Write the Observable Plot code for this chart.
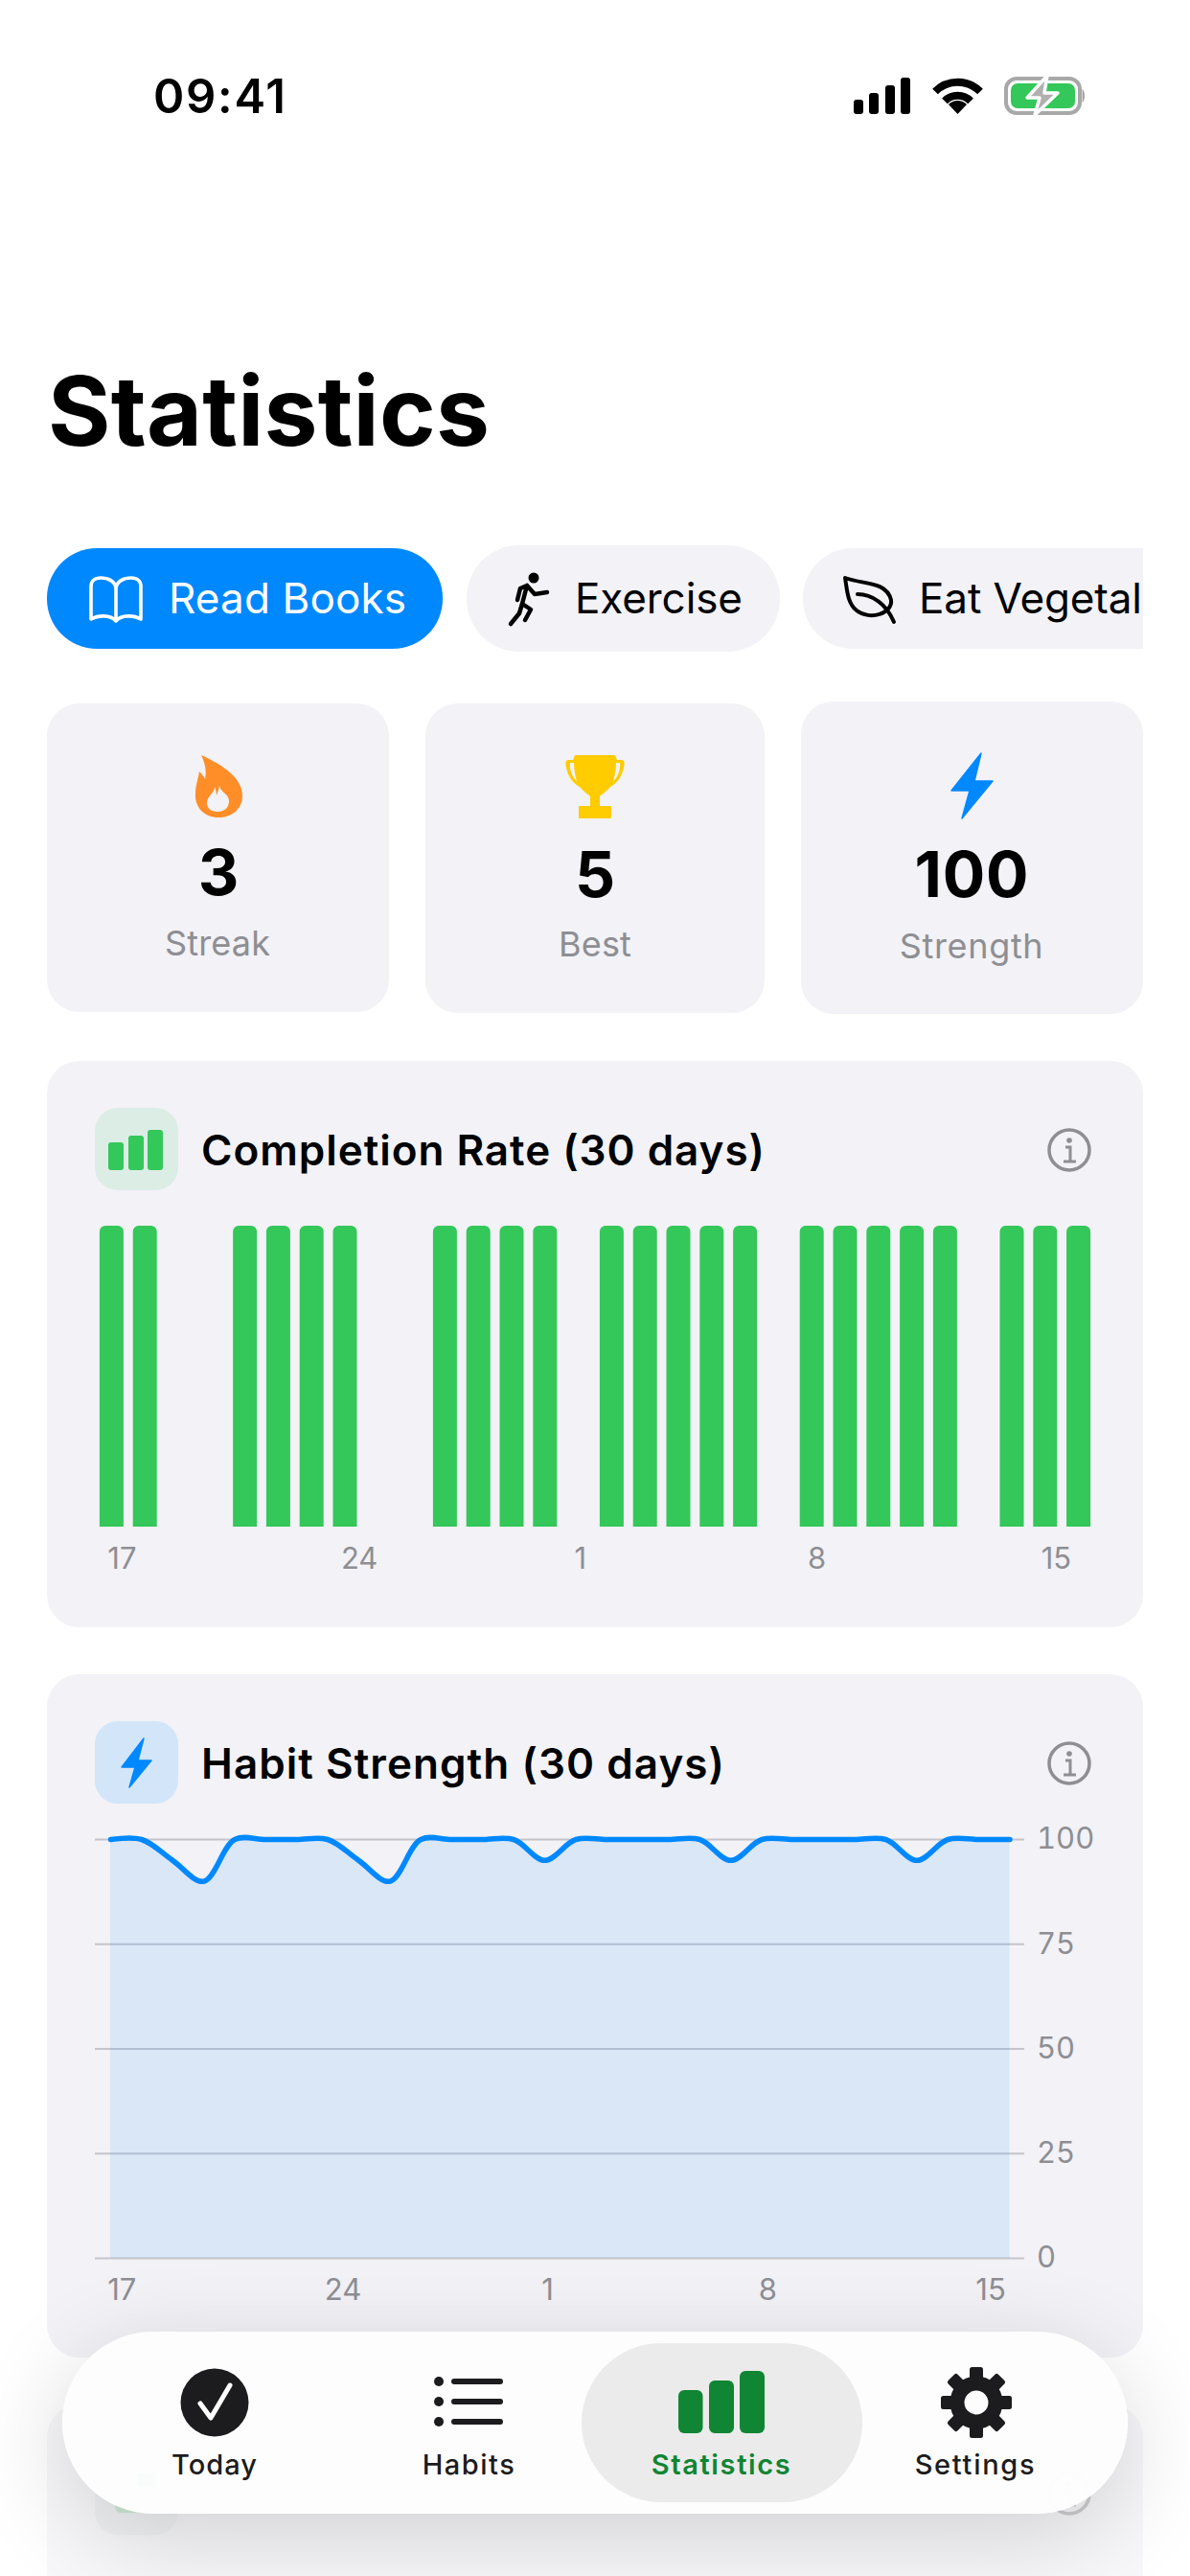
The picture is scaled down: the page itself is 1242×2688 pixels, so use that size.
<!DOCTYPE html>
<html>
<head>
<meta charset="utf-8">
<script src="https://cdn.jsdelivr.net/npm/d3@7"></script>
<script src="https://cdn.jsdelivr.net/npm/@observablehq/plot@0.6"></script>
<style>
html,body{margin:0;padding:0;background:#fff;}
#page{position:relative;width:1242px;height:2688px;overflow:hidden;background:#fff;font-family:Inter,"Noto Sans",sans-serif;}
.box{position:absolute;background:#f2f2f7;border-radius:34px;}
.t{position:absolute;white-space:nowrap;line-height:80px;height:80px;}
.abs{position:absolute;left:0;top:0;}
</style>
</head>
<body>
<div id="page"></div>
<script>
// ---- chart data ----
const days = [17,18,19,20,21,22,23,24,25,26,27,28,29,30,1,2,3,4,5,6,7,8,9,10,11,12,13,14,15,16];
const completed = [1,1,0,0,1,1,1,1,0,0,1,1,1,1,0,1,1,1,1,1,0,1,1,1,1,1,0,1,1,1];
const strength = [100,100,95,90,100,100,100,100,95,90,100,100,100,100,95,100,100,100,100,100,95,100,100,100,100,100,95,100,100,100];
const dayTicks = [17,24,1,8,15];
const strengthTicks = [0,25,50,75,100];

const GREEN = "#34c759", BLUE = "#0088ff", GREY = "#8e8e93";
const page = document.getElementById("page");

function box(x,y,w,h,r,bg,z){
  const d=document.createElement("div");d.className="box";
  d.style.cssText=`left:${x}px;top:${y}px;width:${w}px;height:${h}px;border-radius:${r}px;background:${bg||"#f2f2f7"};z-index:${z||1}`;
  page.appendChild(d);return d;
}
// text: cy = centre of capitals, x = left or cx = centre, w = target width (fitted by letter spacing)
function text(s,o,parent){
  const d=document.createElement("div");d.className="t";d.textContent=s;
  d.style.fontSize=o.size+"px";d.style.fontWeight=o.weight||400;d.style.color=o.color||"#000";
  d.style.top=(o.cy-40)+"px";d.style.zIndex=o.z||3;
  (parent||page).appendChild(d);
  if(o.w){const m=d.getBoundingClientRect().width;d.style.letterSpacing=((o.w-m)/(s.length-1))+"px";}
  if(o.cx!==undefined){d.style.left=(o.cx-d.getBoundingClientRect().width/2)+"px";}else{d.style.left=o.x+"px";}
  return d;
}
function svgLayer(inner,z){
  const d=document.createElement("div");d.className="abs";d.style.zIndex=z;
  d.innerHTML=`<svg width="1242" height="2688" viewBox="0 0 1242 2688" style="display:block">${inner}</svg>`;
  page.appendChild(d);
}
const info=(cx,cy,op)=>`<g opacity="${op||1}"><g fill="none" stroke="${GREY}" stroke-width="3.5"><circle cx="${cx}" cy="${cy}" r="21"/><path d="M${cx-4} ${cy-3}H${cx+1}V${cy+12} M${cx-6} ${cy+12}H${cx+7}" stroke-width="3"/></g><circle cx="${cx}" cy="${cy-10}" r="2.8" fill="${GREY}"/></g>`;

// ---- charts ----
const rows = days.map((d,i)=>({day:d,done:completed[i],strength:strength[i]}));
const axisFont = {fontFamily:"Inter,sans-serif",background:"transparent",overflow:"visible",color:GREY};

const completionPlot = Plot.plot({
  width:1144,height:400,marginLeft:50,marginRight:50,marginTop:19,marginBottom:67,
  style:axisFont,
  x:{type:"band",domain:days,paddingInner:0.282,paddingOuter:0.141,round:false,label:null},
  y:{domain:[0,1],axis:null},
  marks:[
    Plot.barY(rows.filter(d=>d.done),{x:"day",y:"done",fill:GREEN,ry1:6}),
    Plot.axisX(dayTicks,{tickSize:0,tickPadding:21,textAnchor:"start",dx:-4.6,fontSize:31,fill:GREY,label:null,tickFormat:d=>String(d)})
  ]
});
const strengthPlot = Plot.plot({
  width:1144,height:530,marginLeft:66,marginRight:139.5,marginTop:29,marginBottom:64,
  style:axisFont,
  x:{type:"point",domain:days,padding:0,round:false,label:null},
  y:{domain:[0,100],label:null},
  marks:[
    Plot.ruleY(strengthTicks,{stroke:"#c4c4ca",strokeWidth:2,insetLeft:-16,insetRight:-15.5}),
    Plot.areaY(rows,{x:"day",y:"strength",fill:BLUE,fillOpacity:0.1,curve:"catmull-rom"}),
    Plot.line(rows,{x:"day",y:"strength",stroke:BLUE,strokeWidth:5.5,curve:"catmull-rom"}),
    Plot.axisX(dayTicks,{tickSize:0,tickPadding:21,textAnchor:"start",dx:-3.3,fontSize:31,fill:GREY,label:null,tickFormat:d=>String(d)}),
    Plot.axisY(strengthTicks,{anchor:"right",tickSize:0,tickPadding:28,fontSize:31,fill:GREY,label:null,tickFormat:d=>String(d)})
  ]
});
function place(plot,x,y){const d=document.createElement("div");d.style.cssText=`position:absolute;left:${x}px;top:${y}px;z-index:2`;d.appendChild(plot);page.appendChild(d);}
place(completionPlot,49,1260);
place(strengthPlot,49,1890);

// ---- cards ----
box(49,734,357,322,34);box(443.5,734,354.5,323,34);box(836,732,357,326,34);
box(49,1107,1144,591,34);box(49,1747,1144,713,34);box(49,2509,1144,400,34,"rgba(242,242,247,0.5)");
// pills
box(49,572,413,105,52,BLUE);box(487,569,326.5,110.5,55);
const clip=box(838,572,355,105,0);clip.style.borderRadius="52px 0 0 52px";
// tiles
box(99,1156,86.5,86,24,"#dcede6",2);box(99,1796,86.5,86,24,"#d3e5f8",2);
box(99,2559,86.5,86,24,"rgba(100,130,110,0.05)",2);box(120,2595,50,27,6,"#d0ead6",2);

// ---- texts ----
text("09:41",{x:160,cy:101,size:49,weight:600,w:138});
text("Statistics",{x:50,cy:429,size:100,weight:700,w:461});
text("Read Books",{x:176,cy:624,size:44,color:"#fff",w:248});
text("Exercise",{x:600,cy:624,size:44,w:175});
text("Eat Vegetal",{x:121,cy:52,size:44,w:233},clip);
text("3",{cx:228,cy:910,size:66,weight:700});
text("5",{cx:621,cy:912,size:66,weight:700});
text("100",{cx:1014.5,cy:912,size:66,weight:700,w:119});
text("Streak",{cx:227,cy:984,size:36,color:GREY,w:110});
text("Best",{cx:621,cy:985,size:36,color:GREY,w:76});
text("Strength",{cx:1014,cy:987,size:36,color:GREY,w:150});
text("Completion Rate (30 days)",{x:210,cy:1200,size:44,weight:600,w:588});
text("Habit Strength (30 days)",{x:210,cy:1840,size:44,weight:600,w:546});

// ---- icons under the tab bar ----
svgLayer(`
<g fill="#000">
 <rect x="891" y="104" width="10" height="15" rx="3"/><rect x="907" y="97" width="10" height="22" rx="3"/>
 <rect x="924" y="89" width="10" height="30" rx="3"/><rect x="940" y="81" width="10" height="38" rx="3"/>
 <path d="M999.5 119 L990 109 A13.5 13.5 0 0 1 1009 109 Z"/>
</g>
<g fill="none" stroke="#000" stroke-width="8">
 <path d="M976 95.5 A33 33 0 0 1 1023 95.5"/><path d="M986 105.5 A19 19 0 0 1 1013 105.5"/>
</g>
<rect x="1050" y="82" width="77" height="36" rx="11" fill="#fff" stroke="#a8a8a8" stroke-width="4"/>
<rect x="1055" y="87" width="67" height="26" rx="7" fill="${GREEN}"/>
<path d="M1129.500 93 C1133 95 1133 105 1129.500 107 Z" fill="#a8a8a8"/>
<path d="M1093 79 L1072 102 H1085 L1080 120 L1104 97 H1090 Z" fill="#b0b0b0" stroke="#fff" stroke-width="3.5" stroke-linejoin="round"/>

<g fill="none" stroke="#fff" stroke-width="3.6" stroke-linejoin="round" stroke-linecap="round">
 <path d="M121 615 C121 606 112 603 105 603 C99 603 95 606 95 612 V646 C102 642 115 641 121 648 C127 641 140 642 147 646 V612 C147 606 143 603 137 603 C130 603 121 606 121 615 V645"/>
</g>
<g fill="#000" stroke="#000" stroke-linecap="round" stroke-linejoin="round">
 <circle cx="557" cy="603" r="5.5" stroke="none"/>
 <path d="M550 611 L543 614 L540 626 M550 611 L558 620 L571 618 M550 611 L545 630 L554 636 L548 647 M545 630 L542 640 L533 651 " fill="none" stroke-width="4.5"/>
</g>
<g fill="none" stroke="#000" stroke-width="4" stroke-linecap="round" stroke-linejoin="round">
 <path d="M882 603 C900 610 925 606 930 626 C932 640 908 648 894 637 C884 629 884 614 882 603 Z"/>
 <path d="M895 620 C910 620 925 630 933 649"/>
</g>

<path d="M210 788 C228 796 253 810 253 830 C253 845 241 853 228 853 C214 853 203 843 204 828 C204 820 207 812 208 805 C211 808 213 811 214 813 C216 805 214 796 210 788 Z" fill="#ff8d28"/>
<path d="M224 823 C224 830 216 832 216 840 C216 846 221 849 227 849 C234 849 239 845 239 838 C239 830 231 830 229 822 C228 826 227 830 226 832 C226 829 225 826 224 823 Z" fill="#f2f2f7" transform="translate(0,-2)"/>
<path d="M600 788 H642 L644 793 H649 C652 793 652 797 651 801 C649 811 643 818 637 821 C633 826 628 829 626 831 V841 H638 V854 H604 V841 H616 V831 C614 829 609 826 605 821 C599 818 593 811 591 801 C590 797 590 793 593 793 H598 Z M595 796 C594 804 598 812 602 815 C600 808 599 802 599 796 Z M647 796 H643 C643 802 642 808 640 815 C644 812 648 804 647 796 Z" fill="#ffcc00" fill-rule="evenodd"/>
<polygon points="1024,786 993,825 1012,825 1004,854 1036,815 1017,815" fill="${BLUE}" stroke="${BLUE}" stroke-width="1.5" stroke-linejoin="round"/>

<g fill="${GREEN}"><rect x="113" y="1192" width="16" height="29" rx="3"/><rect x="134" y="1185" width="16" height="36" rx="3"/><rect x="154" y="1179" width="16" height="42" rx="3"/></g>
<polygon points="150,1814 127,1844 141,1844 135,1865 158,1837 144,1837" fill="${BLUE}" stroke="${BLUE}" stroke-width="1.5" stroke-linejoin="round"/>
<rect x="143" y="2580" width="20" height="15" rx="3" fill="${GREEN}" opacity="0.6"/>
${info(1116,1200)}${info(1116,1840)}${info(1116,2602,0.4)}
`,2);

// ---- tab bar ----
const nav=box(65,2433,1112,190,95,"rgba(253,253,253,0.975)",5);
nav.style.boxShadow="0 24px 100px rgba(0,0,0,0.16)";
box(607,2445,293,166,83,"#ebebeb",6);
let teeth="";
for(let i=0;i<8;i++){teeth+=`<rect x="1012" y="2470" width="14" height="14" rx="2.5" transform="rotate(${i*45} 1019 2507)"/>`;}
svgLayer(`
<circle cx="224" cy="2507" r="35.5" fill="#1c1c1e"/>
<path d="M209 2508 L220 2523 L240 2489" fill="none" stroke="#fff" stroke-width="5" stroke-linecap="round" stroke-linejoin="round"/>
<g fill="#1c1c1e">
 <circle cx="458" cy="2485" r="5"/><circle cx="458" cy="2506" r="5"/><circle cx="458" cy="2527" r="5"/>
</g>
<g stroke="#1c1c1e" stroke-width="6" stroke-linecap="round"><path d="M474 2485H522"/><path d="M474 2506H522"/><path d="M474 2527H522"/></g>
<g fill="#108533"><rect x="708" y="2494" width="25.500" height="45" rx="6"/><rect x="740" y="2484" width="26" height="55" rx="6"/><rect x="772" y="2474" width="26" height="65" rx="6"/></g>
<g fill="#1c1c1e">${teeth}</g>
<circle cx="1019" cy="2507" r="20" fill="none" stroke="#1c1c1e" stroke-width="15"/>
`,7);
text("Today",{cx:224,cy:2572,size:29,weight:500,color:"#1c1c1e",w:89,z:8});
text("Habits",{cx:489.5,cy:2572,size:29,weight:500,color:"#1c1c1e",w:96,z:8});
text("Statistics",{cx:753,cy:2572,size:29,weight:600,color:"#108533",w:145,z:8});
text("Settings",{cx:1018,cy:2572,size:29,weight:500,color:"#1c1c1e",w:125,z:8});
</script>
</body>
</html>
